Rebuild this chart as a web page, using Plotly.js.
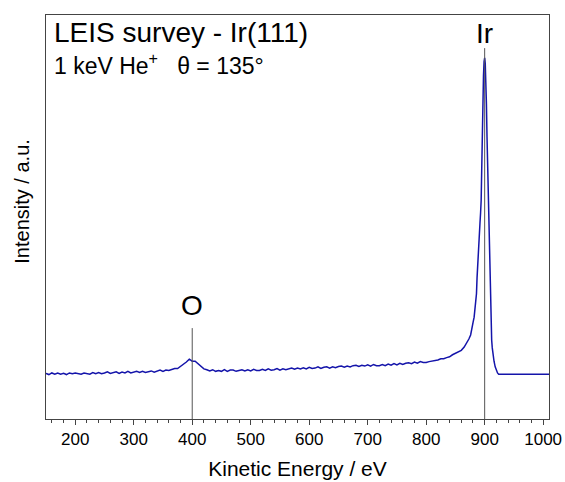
<!DOCTYPE html>
<html>
<head>
<meta charset="utf-8">
<script src="https://cdn.plot.ly/plotly-3.0.1.min.js"></script>
<style>html,body{margin:0;padding:0;background:#fff}</style>
</head>
<body>
<div id="chart" style="width:565px;height:482px"></div>
<script>
// Kinetic energy (eV)
const energy = [
 150,155,160,165,170,175,180,185,190,195,200,205,210,215,220,225,230,235,240,245,
 250,255,260,265,270,275,280,285,290,295,300,305,310,315,320,325,330,335,340,345,
 350,355,360,365,370,375,380,385,390,395,400,405,410,415,420,425,430,435,440,445,
 450,455,460,465,470,475,480,485,490,495,500,505,510,515,520,525,530,535,540,545,
 550,555,560,565,570,575,580,585,590,595,600,605,610,615,620,625,630,635,640,645,
 650,655,660,665,670,675,680,685,690,695,700,705,710,715,720,725,730,735,740,745,
 750,755,760,765,770,775,780,785,790,795,800,805,810,815,820,825,830,835,840,845,
 850,855,860,865,870,873,876,878,880,882,884,885,886,887,888,889,890,891,892,893,
 894,895,896,897,898,899,900,901,902,903,904,905,906,907,908,909,910,911,912,913,
 914,916,918,920,922,924,930,940,950,960,970,980,990,1000,1010
];
// Intensity (a.u.)
const intensity = [
 11.3,11.0,11.4,11.1,11.4,11.1,11.3,11.0,11.4,11.2,11.4,11.2,11.1,11.4,11.2,11.1,11.5,11.2,11.5,11.2,
 11.4,11.7,11.3,11.5,11.7,11.3,11.6,11.4,11.8,11.4,11.6,11.8,11.5,11.8,11.5,11.8,11.9,11.6,11.8,12.1,
 11.8,12.1,12.0,12.3,12.5,12.5,13.0,13.4,14.1,14.8,14.3,14.3,13.6,13.0,12.4,12.2,11.9,12.2,11.8,12.0,
 11.8,12.2,11.8,12.1,12.1,11.8,12.1,12.2,11.9,12.2,11.9,12.3,12.0,12.0,12.3,12.0,12.4,12.1,12.2,12.5,
 12.1,12.4,12.2,12.5,12.6,12.3,12.6,12.4,12.7,12.4,12.8,12.5,12.6,12.9,12.5,12.8,12.9,12.6,12.9,12.7,
 13.0,13.1,12.8,13.1,12.9,13.2,13.3,13.0,13.3,13.1,13.4,13.1,13.5,13.2,13.2,13.5,13.2,13.6,13.3,13.7,
 13.4,13.8,13.5,13.8,13.9,13.7,14.1,13.8,14.2,14.0,14.0,14.2,14.3,14.5,14.6,14.9,14.9,15.2,15.4,15.9,
 16.3,16.7,17.0,17.8,19.0,19.8,20.8,22.0,23.8,25.2,27.5,28.7,31.0,35.0,38.5,41.5,44.0,46.0,48.5,51.0,
 54.0,62.0,72.0,80.0,85.0,88.5,89.4,88.0,84.0,78.0,70.0,63.0,57.0,52.0,43.0,35.0,29.0,23.0,19.5,17.6,
 16.3,14.3,12.9,12.0,11.4,11.1,11.1,11.1,11.1,11.1,11.1,11.1,11.1,11.1,11.1
];
// Peak markers
const peakLabels = ["O", "Ir"];
const peakEnergy = [400, 900];
const peakLineTop = [22.5, 91.8];
const peakLabelShift = [5, -3];

const xTicks = [200,300,400,500,600,700,800,900,1000];

const FONT = "Liberation Sans, Arial, sans-serif";

const shapes = peakEnergy.map((e, i) => ({
  type: "line", xref: "x", yref: "y",
  x0: e, x1: e, y0: 0, y1: peakLineTop[i],
  line: {color: "#555555", width: 1}
}));

const annotations = peakLabels.map((t, i) => ({
  text: t, xref: "x", yref: "y", x: peakEnergy[i], y: peakLineTop[i],
  xanchor: "center", yanchor: "bottom", showarrow: false, yshift: peakLabelShift[i],
  font: {family: FONT, size: 28, color: "#000"}
}));

annotations.push({
  text: "LEIS survey - Ir(111)", xref: "paper", yref: "paper",
  x: 0.012, y: 1.0, xanchor: "left", yanchor: "top", showarrow: false,
  font: {family: FONT, size: 28, color: "#000"}
});
annotations.push({
  text: "1 keV He<sup>+</sup>   θ = 135°", xref: "paper", yref: "paper",
  x: 0.012, y: 0.92, xanchor: "left", yanchor: "top", showarrow: false,
  font: {family: FONT, size: 23, color: "#000"}
});
annotations.push({
  text: "Intensity / a.u.", xref: "paper", yref: "paper",
  x: -0.048, y: 0.54, xanchor: "center", yanchor: "middle", textangle: -90,
  showarrow: false, font: {family: FONT, size: 20, color: "#000"}
});

const trace = {
  x: energy, y: intensity, type: "scatter", mode: "lines",
  line: {color: "rgb(20,20,170)", width: 1.5}, hoverinfo: "skip"
};

const layout = {
  width: 565, height: 482,
  margin: {l: 46, r: 16, t: 15, b: 63},
  paper_bgcolor: "#fff", plot_bgcolor: "#fff",
  showlegend: false,
  font: {family: FONT, color: "#000"},
  xaxis: {
    range: [150, 1010], tickvals: xTicks, ticktext: xTicks.map(String),
    ticks: "outside", ticklen: 5, tickcolor: "#444", tickwidth: 1,
    minor: {dtick: 20, tick0: 0, ticks: "outside", ticklen: 3, tickcolor: "#444"},
    showline: true, mirror: true, linecolor: "#444", linewidth: 1,
    showgrid: false, zeroline: false,
    tickfont: {family: FONT, size: 17, color: "#000"},
    title: {text: "Kinetic Energy / eV", standoff: 12, font: {family: FONT, size: 21, color: "#000"}}
  },
  yaxis: {
    range: [0, 100], showticklabels: false, ticks: "",
    showline: true, mirror: true, linecolor: "#444", linewidth: 1,
    showgrid: false, zeroline: false
  },
  shapes: shapes,
  annotations: annotations
};

Plotly.newPlot("chart", [trace], layout, {staticPlot: true, displayModeBar: false});
</script>
</body>
</html>
